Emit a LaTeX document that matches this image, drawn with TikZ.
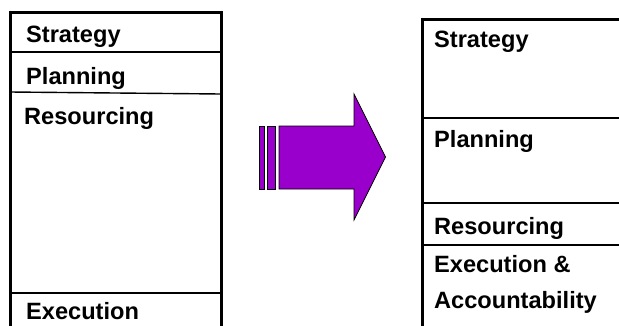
\documentclass[tikz,border=0pt]{standalone}
\usepackage{fontspec}
\setmainfont{Liberation Sans}
\definecolor{arrowpurple}{RGB}{153,0,204}
\tikzset{
  frame/.style={line width=3pt},
  divider/.style={line width=1.4pt},
  label/.style={anchor=base west,inner sep=0pt,font=\fontsize{23.6}{27}\selectfont\bfseries},
  arrowfill/.style={fill=arrowpurple,draw=black,line width=0.8pt,line join=miter}
}
\begin{document}
\begin{tikzpicture}[x=1pt,y=-1pt]
\useasboundingbox (0,0) rectangle (619,325);
\clip (0,0) rectangle (619,325);
% old layout
\draw[frame] (10,335) -- (10,12.5) -- (221,12.5) -- (221,335);
\draw[divider] (10,52) -- (221,52);
\draw[divider] (10,92) -- (221,94);
\draw[divider] (10,293) -- (221,293);
\node[label] (oldstrategy) at (26,42.5) {Strategy};
\node[label] (oldplanning) at (26,84) {Planning};
\node[label] (oldresourcing) at (24,124.5) {Resourcing};
\node[label] (oldexecution) at (26,319.5) {Execution};
% arrow
\draw[arrowfill] (259,126) rectangle (264,189);
\draw[arrowfill] (267.5,126) rectangle (275.5,189);
\draw[arrowfill] (279,126) -- (354,126) -- (354,94) -- (385.5,157)
  -- (354,220) -- (354,189) -- (279,189) -- cycle;
% new layout
\draw[frame] (422,335) -- (422,19) -- (630,19);
\draw[divider] (422,118) -- (630,118);
\draw[divider] (422,203) -- (630,203);
\draw[divider] (422,245) -- (630,245);
\node[label] (newstrategy) at (434,47.5) {Strategy};
\node[label] (newplanning) at (434,147.5) {Planning};
\node[label] (newresourcing) at (434,234.5) {Resourcing};
\node[label] (newexecution) at (434,272.5) {Execution \&};
\node[label] (newaccount) at (434,308.5) {Accountability};
\end{tikzpicture}
\end{document}
